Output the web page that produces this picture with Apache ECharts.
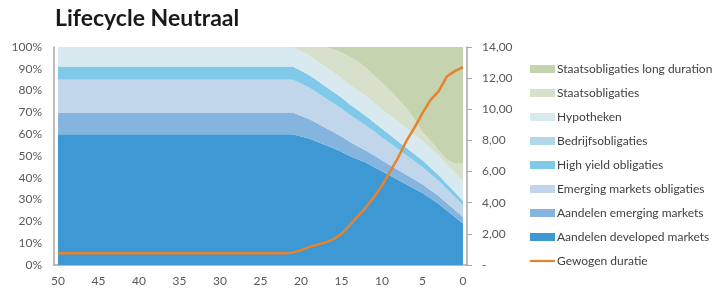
<!DOCTYPE html>
<html>
<head>
<meta charset="utf-8">
<script src="https://cdn.jsdelivr.net/npm/echarts@6/dist/echarts.min.js"></script>
<style>
  html, body { margin: 0; padding: 0; background: #fff; }
  #chart { width: 728px; height: 288px; }
</style>
</head>
<body>
<div id="chart"></div>
<script>
// jaren tot pensioen
var years = [50, 49, 48, 47, 46, 45, 44, 43, 42, 41, 40, 39, 38, 37, 36, 35, 34, 33, 32, 31, 30,
  29, 28, 27, 26, 25, 24, 23, 22, 21, 20, 19, 18, 17, 16, 15, 14, 13, 12, 11, 10,
  9, 8, 7, 6, 5, 4, 3, 2, 1, 0]

// allocaties in %
var aandelenDev = [60, 60, 60, 60, 60, 60, 60, 60, 60, 60, 60, 60, 60, 60, 60, 60, 60, 60, 60, 60, 60,
  60, 60, 60, 60, 60, 60, 60, 60, 60, 59, 58, 56.5, 55, 53.5, 52, 50, 48.5, 47, 45, 43,
  41, 39, 37, 35, 33, 30.5, 28, 25, 22, 19]
var aandelenEm = [10, 10, 10, 10, 10, 10, 10, 10, 10, 10, 10, 10, 10, 10, 10, 10, 10, 10, 10, 10, 10,
  10, 10, 10, 10, 10, 10, 10, 10, 10, 9.5, 9, 8.5, 8, 7.5, 7, 6.5, 6, 5.5, 5.3, 5,
  4.8, 4.6, 4.4, 4.2, 4, 3.8, 3.6, 3.4, 3.2, 3]
var emObligaties = [15, 15, 15, 15, 15, 15, 15, 15, 15, 15, 15, 15, 15, 15, 15, 15, 15, 15, 15, 15, 15,
  15, 15, 15, 15, 15, 15, 15, 15, 15, 14.7, 14.4, 14, 13.6, 13.2, 12.8, 12.4, 12, 11.5, 11, 10.5,
  10, 9.5, 9, 8.5, 8, 7.5, 7, 6.5, 6, 5.5]
var highYield = [6, 6, 6, 6, 6, 6, 6, 6, 6, 6, 6, 6, 6, 6, 6, 6, 6, 6, 6, 6, 6,
  6, 6, 6, 6, 6, 6, 6, 6, 6, 5.9, 5.8, 5.6, 5.4, 5.2, 5, 4.8, 4.6, 4.4, 4.2, 4,
  3.8, 3.6, 3.4, 3.2, 3, 2.8, 2.6, 2.4, 2.2, 2]
var bedrijfs = [0, 0, 0, 0, 0, 0, 0, 0, 0, 0, 0, 0, 0, 0, 0, 0, 0, 0, 0, 0, 0,
  0, 0, 0, 0, 0, 0, 0, 0, 0, 0, 0, 0, 0, 0, 0, 0, 0, 0, 0, 0,
  0, 0, 0, 0, 0, 0, 0, 0, 0, 0]
var hypotheken = [9, 9, 9, 9, 9, 9, 9, 9, 9, 9, 9, 9, 9, 9, 9, 9, 9, 9, 9, 9, 9,
  9, 9, 9, 9, 9, 9, 9, 9, 9, 9, 9, 9, 9, 9, 9, 9, 9, 9, 9, 9,
  9, 9, 9, 9, 9, 9, 9, 9, 9, 9]
var staats = [0, 0, 0, 0, 0, 0, 0, 0, 0, 0, 0, 0, 0, 0, 0, 0, 0, 0, 0, 0, 0,
  0, 0, 0, 0, 0, 0, 0, 0, 0, 1.9, 3.8, 6.4, 9, 10.6, 11.7, 12.8, 13.4, 13.1, 12.5, 12,
  11.4, 10.3, 9.2, 7.1, 4, 3.4, 2.3, 2.2, 4.1, 8]
var staatsLong = [0, 0, 0, 0, 0, 0, 0, 0, 0, 0, 0, 0, 0, 0, 0, 0, 0, 0, 0, 0, 0,
  0, 0, 0, 0, 0, 0, 0, 0, 0, 0, 0, 0, 0, 1, 2.5, 4.5, 6.5, 9.5, 13, 16.5,
  20, 24, 28, 33, 39, 43, 47.5, 51.5, 53.5, 53.5]

// gewogen duratie (rechter as)
var duratie = [0.75, 0.75, 0.75, 0.75, 0.75, 0.75, 0.75, 0.75, 0.75, 0.75, 0.75, 0.75, 0.75, 0.75, 0.75, 0.75, 0.75, 0.75, 0.75, 0.75, 0.75,
  0.75, 0.75, 0.75, 0.75, 0.75, 0.75, 0.75, 0.75, 0.8, 0.95, 1.15, 1.3, 1.45, 1.65, 2.0, 2.55, 3.1, 3.7, 4.35, 5.1,
  6.0, 6.9, 7.95, 8.8, 9.75, 10.6, 11.15, 12.1, 12.45, 12.7]

var font = 'Lato'
var labelColor = '#595959'
var axisColor = '#a6a6a6'

function area(name, data, color) {
  return {
    name: name,
    type: 'line',
    stack: 'mix',
    data: data,
    symbol: 'none',
    lineStyle: { width: 0 },
    areaStyle: { color: color, opacity: 1 },
    itemStyle: { color: color },
    silent: true
  }
}

var chart = echarts.init(document.getElementById('chart'))
chart.setOption({
  animation: false,
  backgroundColor: '#fff',
  title: {
    text: 'Lifecycle Neutraal',
    left: 50,
    top: 2,
    textStyle: { fontFamily: font, fontWeight: 'bold', fontSize: 23, color: '#1a1a1a' }
  },
  legend: {
    orient: 'vertical',
    left: 530,
    top: 63,
    padding: 0,
    itemWidth: 25,
    itemHeight: 8,
    itemGap: 12,
    symbolKeepAspect: true,
    textStyle: { fontFamily: font, fontSize: 12, color: '#404040', padding: [0, 0, 0, -3] },
    data: [
      { name: 'Staatsobligaties long duration', icon: 'rect' },
      { name: 'Staatsobligaties', icon: 'rect' },
      { name: 'Hypotheken', icon: 'rect' },
      { name: 'Bedrijfsobligaties', icon: 'rect' },
      { name: 'High yield obligaties', icon: 'rect' },
      { name: 'Emerging markets obligaties', icon: 'rect' },
      { name: 'Aandelen emerging markets', icon: 'rect' },
      { name: 'Aandelen developed markets', icon: 'rect' },
      { name: 'Gewogen duratie', icon: 'path://M0,0L25,0L25,2.2L0,2.2Z' }
    ]
  },
  grid: {
    left: 54,
    right: 261,
    top: 47,
    height: 218
  },
  xAxis: {
    type: 'category',
    data: years,
    boundaryGap: true,
    axisLine: { lineStyle: { color: axisColor, width: 1.5 } },
    axisTick: { show: false },
    axisLabel: { interval: 4, margin: 10, fontFamily: font, fontSize: 12, color: labelColor }
  },
  yAxis: [{
    type: 'value',
    min: 0,
    max: 100,
    interval: 10,
    axisLine: { show: true, lineStyle: { color: axisColor, width: 1.5 } },
    axisTick: { show: false },
    splitLine: { show: false },
    axisLabel: { formatter: '{value}%', margin: 12, fontFamily: font, fontSize: 12, color: labelColor }
  }, {
    type: 'value',
    position: 'right',
    min: 0,
    max: 14,
    interval: 2,
    axisLine: { show: true, lineStyle: { color: axisColor, width: 1.5 } },
    axisTick: { show: true, inside: false, length: 5, lineStyle: { color: axisColor } },
    splitLine: { show: false },
    axisLabel: {
      margin: 15,
      fontFamily: font,
      fontSize: 12,
      color: labelColor,
      formatter: function (v) {
        if (v === 0) return '-'
        return v.toFixed(2).replace('.', ',')
      }
    }
  }],
  series: [
    area('Aandelen developed markets', aandelenDev, '#3d98d3'),
    area('Aandelen emerging markets', aandelenEm, '#85b4df'),
    area('Emerging markets obligaties', emObligaties, '#c1d6ea'),
    area('High yield obligaties', highYield, '#80c9e8'),
    area('Bedrijfsobligaties', bedrijfs, '#b1d7e9'),
    area('Hypotheken', hypotheken, '#d9e9f0'),
    area('Staatsobligaties', staats, '#d6e0ca'),
    area('Staatsobligaties long duration', staatsLong, '#c6d3af'),
    {
      name: 'Gewogen duratie',
      type: 'line',
      yAxisIndex: 1,
      data: duratie,
      symbol: 'none',
      lineStyle: { color: '#e5832f', width: 2.5 },
      itemStyle: { color: '#e5832f' },
      z: 5
    }
  ]
})
</script>
</body>
</html>
